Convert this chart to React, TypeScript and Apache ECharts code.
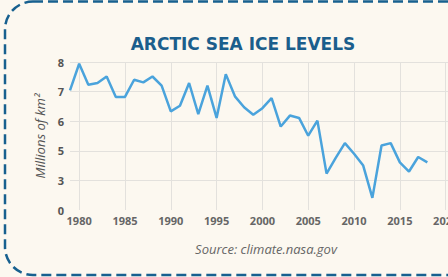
import React, { useEffect, useRef } from "react";
import * as echarts from "echarts";

const years: number[] = [
  1979, 1980, 1981, 1982, 1983, 1984, 1985, 1986, 1987, 1988,
  1989, 1990, 1991, 1992, 1993, 1994, 1995, 1996, 1997, 1998,
  1999, 2000, 2001, 2002, 2003, 2004, 2005, 2006, 2007, 2008,
  2009, 2010, 2011, 2012, 2013, 2014, 2015, 2016, 2017, 2018,
];
const iceExtent: number[] = [
  7.04, 7.94, 7.23, 7.29, 7.51, 6.82, 6.82, 7.4, 7.31, 7.51,
  7.2, 6.33, 6.52, 7.29, 6.24, 7.2, 6.11, 7.59, 6.84, 6.47,
  6.22, 6.44, 6.78, 5.82, 6.19, 6.11, 5.51, 6.02, 4.23, 4.76,
  5.26, 4.9, 4.5, 3.41, 5.18, 5.26, 4.61, 4.3, 4.79, 4.61,
];
const xTicks: number[] = [1980, 1985, 1990, 1995, 2000, 2005, 2010, 2015, 2020];
// tick labels as printed on the original chart (bottom two are mislabeled there)
const yTickValues: number[] = [3, 4, 5, 6, 7, 8];
const yTickLabels: string[] = ["0", "3", "5", "6", "7", "8"];

const title = "ARCTIC SEA ICE LEVELS";
const source = "Source: climate.nasa.gov";
const yName = "Millions of km²";

export default function App() {
  const ref = useRef<HTMLDivElement>(null);
  useEffect(() => {
    if (!ref.current) return;
    const chart = echarts.init(ref.current, undefined, { renderer: "svg" });
    const font = "'Open Sans', 'Noto Sans', sans-serif";
    chart.setOption({
      animation: false,
      backgroundColor: "#fcf8f0",
      textStyle: { fontFamily: font },
      grid: { left: 70, right: 56, top: 62, bottom: 67, containLabel: false },
      xAxis: {
        type: "value",
        min: 1979,
        max: 2022,
        axisLine: { show: false },
        axisTick: { show: false, customValues: xTicks },
        axisLabel: {
          customValues: xTicks,
          color: "#666",
          fontWeight: "bold",
          fontSize: 11,
          fontFamily: font,
          margin: 5,
          formatter: (v: number) => String(v),
        },
        splitLine: { show: true, lineStyle: { color: "#e3e1dd", width: 1 } },
      },
      yAxis: {
        type: "value",
        min: 3,
        max: 8,
        interval: 1,
        axisLine: { show: false },
        axisTick: { show: false },
        axisLabel: {
          color: "#555",
          fontWeight: "bold",
          fontSize: 11,
          fontFamily: font,
          margin: 6,
          formatter: (v: number) => {
            const i = yTickValues.indexOf(v);
            return i >= 0 ? yTickLabels[i] : "";
          },
        },
        splitLine: {
          show: true,
          showMinLine: false,
          lineStyle: { color: "#e3e1dd", width: 1 },
        },
        name: yName,
        nameLocation: "middle",
        nameRotate: 90,
        nameGap: 24,
        nameTextStyle: {
          color: "#555",
          fontStyle: "italic",
          fontSize: 13,
          fontFamily: font,
        },
      },
      series: [
        {
          type: "line",
          data: years.map((y, i) => [y, iceExtent[i]]),
          symbol: "none",
          lineStyle: { color: "#4aa3dc", width: 2.5 },
          itemStyle: { color: "#4aa3dc" },
        },
      ],
      graphic: [
        {
          type: "rect",
          shape: { x: 5, y: 1.5, width: 700, height: 273.5, r: 28 },
          style: { fill: "none", stroke: "#17608f", lineWidth: 2.5, lineDash: [10, 5] },
          silent: true,
        },
        {
          type: "text",
          x: 243,
          y: 44,
          style: {
            text: title,
            fill: "#1b5e8c",
            fontSize: 17,
            fontWeight: "bold",
            fontFamily: "'DejaVu Sans', sans-serif",
            textAlign: "center",
            textVerticalAlign: "middle",
          },
        },
        {
          type: "text",
          x: 266,
          y: 249,
          style: {
            text: source,
            fill: "#666",
            fontSize: 13,
            fontStyle: "italic",
            fontFamily: font,
            textAlign: "center",
            textVerticalAlign: "middle",
          },
        },
      ],
    });
    return () => chart.dispose();
  }, []);
  return (
    <div style={{ position: "absolute", left: 0, top: 0, width: 448, height: 277, overflow: "hidden" }}>
      <div ref={ref} style={{ width: 520, height: 277 }} />
    </div>
  );
}
